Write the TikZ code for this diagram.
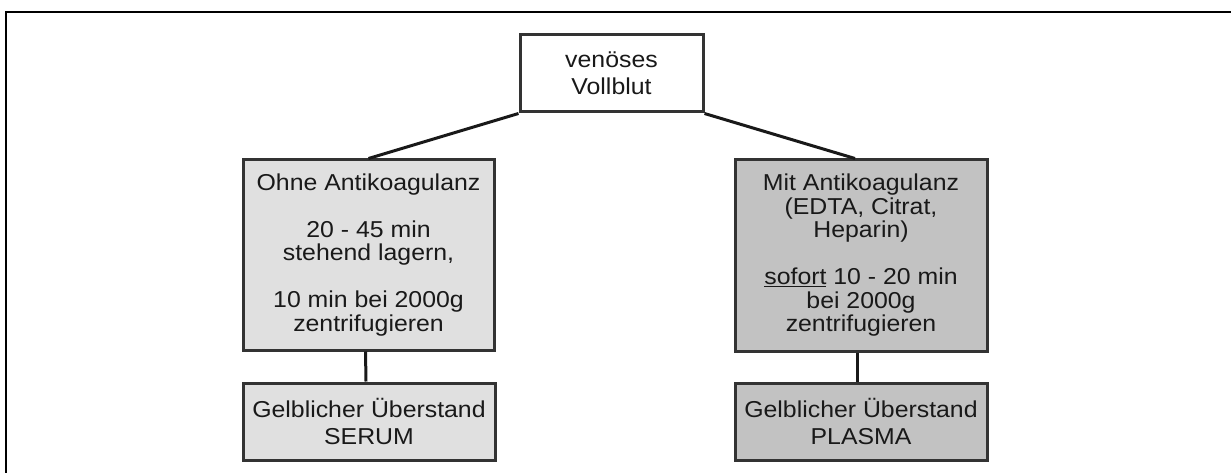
\documentclass[tikz,border=0pt]{standalone}
\usepackage{fontspec}
\setmainfont[FakeStretch=1.08]{Liberation Sans}
\definecolor{lightfill}{HTML}{E0E0E0}
\definecolor{darkfill}{HTML}{C2C2C2}
\definecolor{edge}{HTML}{333333}
\begin{document}
\begin{tikzpicture}[x=1pt,y=-1pt,
  box/.style={draw=edge, line width=3pt, align=center, inner sep=0pt, text=black!90},
  bigtext/.style={font=\fontsize{23}{23.5}\selectfont},
  smalltext/.style={font=\fontsize{23}{27}\selectfont},
  link/.style={line width=3pt, draw=black!90}]
\useasboundingbox (0,0) rectangle (1231,473);
\draw[line width=2.5pt] (6,473) -- (6,12) -- (1231,12);

\node[box, smalltext, fill=white, minimum width=183pt, minimum height=77pt] (top) at (611.5,73.5) {venöses\\Vollblut};

\node[box, bigtext, fill=lightfill, minimum width=251pt, minimum height=190pt] (ohne) at (368.5,255)
  {Ohne Antikoagulanz\\[23.5pt]20 - 45 min\\stehend lagern,\\[23.5pt]10 min bei 2000g\\zentrifugieren};

\node[box, bigtext, fill=darkfill, minimum width=252pt, minimum height=191pt] (mit) at (861,255.5)
  {Mit Antikoagulanz\\(EDTA, Citrat,\\Heparin)\\[23.5pt]\underline{sofort} 10 - 20 min\\bei 2000g\\zentrifugieren};

\node[box, smalltext, fill=lightfill, minimum width=252pt, minimum height=77pt] (serum) at (369,421.5)
  {Gelblicher Überstand\\SERUM};

\node[box, smalltext, fill=darkfill, minimum width=252pt, minimum height=77pt] (plasma) at (861,421.5)
  {Gelblicher Überstand\\PLASMA};

\draw[link] (top.south west) -- (ohne.north);
\draw[link] (top.south east) -- ([xshift=-6pt]mit.north);
\draw[link] ([xshift=-3pt]ohne.south) -- ([xshift=-3pt]serum.north);
\draw[link] ([xshift=-4pt]mit.south) -- ([xshift=-4pt]plasma.north);
\end{tikzpicture}
\end{document}
